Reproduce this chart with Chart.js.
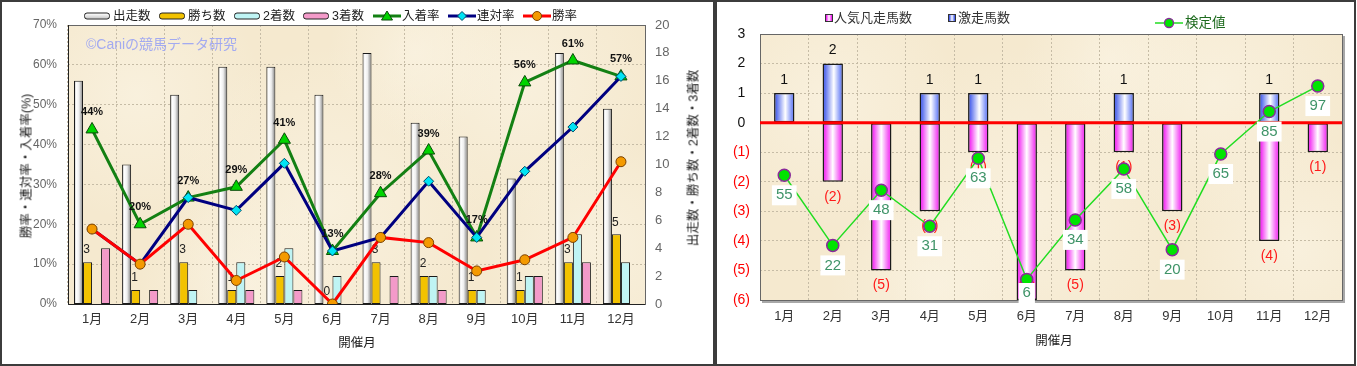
<!DOCTYPE html>
<html>
<head>
<meta charset="utf-8">
<script src="https://cdn.jsdelivr.net/npm/chart.js@4/dist/chart.umd.min.js"></script>
<style>
html,body{margin:0;padding:0;background:#fff;}
body{width:1357px;height:366px;position:relative;overflow:hidden;font-family:"Liberation Sans","Noto Sans CJK JP",sans-serif;}
.panel{position:absolute;top:0;height:366px;}
.panel canvas{position:absolute;left:0;top:0;}
.frame{position:absolute;left:0;top:0;right:0;bottom:0;border:2px solid #3c3c3c;box-sizing:border-box;pointer-events:none;}
.lg{position:absolute;font-size:12.5px;color:#222;white-space:nowrap;line-height:14px;transform:translateY(-50%);}
.ico{position:absolute;transform:translateY(-50%);box-sizing:border-box;}
.bar-ico{width:26px;height:7px;border:1px solid #222;border-radius:3px;}
.ttl{position:absolute;font-size:12.5px;color:#222;white-space:nowrap;transform:translate(-50%,-50%);}
.rot{transform:translate(-50%,-50%) rotate(-90deg);}
</style>
</head>
<body>
<div class="panel" id="p1" style="left:0;width:715px;">
  <canvas id="c1" width="715" height="366"></canvas>
  <div id="lg1"></div>
  <div class="ttl" style="left:86px;top:43px;transform:translateY(-50%);color:#a3aaf0;font-size:14px;">©Caniの競馬データ研究</div>
  <div class="ttl rot" style="left:25px;top:166px;">勝率・連対率・入着率(%)</div>
  <div class="ttl rot" style="left:692px;top:158px;">出走数・勝ち数・2着数・3着数</div>
  <div class="ttl" style="left:357px;top:341px;">開催月</div>
  <div class="frame"></div>
</div>
<div class="panel" id="p2" style="left:715px;width:641px;">
  <canvas id="c2" width="641" height="366"></canvas>
  <div id="lg2"></div>
  <div class="ttl" style="left:339px;top:339px;">開催月</div>
  <div class="frame"></div>
</div>
<script>
// ---- data: left chart ----
const months = ['1月','2月','3月','4月','5月','6月','7月','8月','9月','10月','11月','12月'];
const starts  = [16, 10, 15, 17, 17, 15, 18, 13, 12,  9, 18, 14];   // 出走数
const wins    = [ 3,  1,  3,  1,  2,  0,  3,  2,  1,  1,  3,  5];   // 勝ち数
const seconds = [ 0,  0,  1,  3,  4,  2,  0,  2,  1,  2,  5,  3];   // 2着数
const thirds  = [ 4,  1,  0,  1,  1,  0,  2,  1,  0,  2,  3,  0];   // 3着数
const placeRate    = [43.8, 20.0, 26.7, 29.4, 41.2, 13.3, 27.8, 38.5, 16.7, 55.6, 61.1, 57.1]; // 入着率
const quinellaRate = [18.8, 10.0, 26.7, 23.5, 35.3, 13.3, 16.7, 30.8, 16.7, 33.3, 44.4, 57.1]; // 連対率
const winRate      = [18.8, 10.0, 20.0,  5.9, 11.8,  0.0, 16.7, 15.4,  8.3, 11.1, 16.7, 35.7]; // 勝率
const rateTicks  = [0, 10, 20, 30, 40, 50, 60, 70];
const countTicks = [0, 2, 4, 6, 8, 10, 12, 14, 16, 18, 20];

// ---- data: right chart ----
const hitCounts  = [1, 2, 0, 1, 1, 0, 0, 1, 0, 0, 1, 0];          // 激走馬数
const flopCounts = [0, -2, -5, -3, -1, -6, -5, -1, -3, 0, -4, -1]; // 人気凡走馬数
const testValues = [55, 22, 48, 31, 63, 6, 34, 58, 20, 65, 85, 97]; // 検定値
const diffTicks  = [3, 2, 1, 0, -1, -2, -3, -4, -5, -6];

Chart.defaults.font.family = '"Liberation Sans","Noto Sans CJK JP",sans-serif';
Chart.defaults.animation = false;

const GRID = '#c6bca6';

function paper(ctx, a) {
  ctx.save();
  ctx.fillStyle = '#f5e9cf';
  ctx.fillRect(a.left, a.top, a.width, a.height);
  const spots = [[0.12,0.25,0.22],[0.45,0.65,0.28],[0.78,0.2,0.24],[0.3,0.95,0.18],[0.92,0.8,0.2],[0.6,0.1,0.15]];
  for (const [fx, fy, fr] of spots) {
    const x = a.left + fx * a.width, y = a.top + fy * a.height, r = fr * a.width;
    const g = ctx.createRadialGradient(x, y, 0, x, y, r);
    g.addColorStop(0, 'rgba(251,245,230,0.6)');
    g.addColorStop(1, 'rgba(251,245,230,0)');
    ctx.fillStyle = g;
    ctx.fillRect(a.left, a.top, a.width, a.height);
  }
  ctx.restore();
}

const gradPlugin = {
  id: 'grad',
  beforeDatasetsDraw(chart) {
    const ctx = chart.ctx;
    chart.data.datasets.forEach((ds, i) => {
      if (!ds.grad) return;
      chart.getDatasetMeta(i).data.forEach(el => {
        const g = ctx.createLinearGradient(el.x - el.width / 2, 0, el.x + el.width / 2, 0);
        ds.grad.forEach(([p, c]) => g.addColorStop(p, c));
        el.options = Object.assign({}, el.options, {backgroundColor: g});
      });
    });
  }
};

function text(ctx, s, x, y, font, color) {
  ctx.save();
  ctx.font = font;
  ctx.fillStyle = color;
  ctx.textAlign = 'center';
  ctx.textBaseline = 'middle';
  ctx.fillText(s, x, y);
  ctx.restore();
}

// ---------------- left chart ----------------
const chart1Plugin = {
  id: 'c1deco',
  beforeDraw(chart) { paper(chart.ctx, chart.chartArea); },
  beforeDatasetsDraw(chart) {
    const ctx = chart.ctx, a = chart.chartArea;
    ctx.save();
    ctx.strokeStyle = '#666';
    ctx.lineWidth = 1;
    ctx.strokeRect(a.left + 0.5, a.top + 0.5, a.width, a.height);
    ctx.strokeStyle = '#222';
    ctx.beginPath();
    ctx.moveTo(a.left + 0.5, a.top);
    ctx.lineTo(a.left + 0.5, a.bottom + 0.5);
    ctx.lineTo(a.right, a.bottom + 0.5);
    ctx.stroke();
    ctx.restore();
  },
  beforeDatasetDraw(chart, args) {
    if (args.index !== 4) return;
    chart.getDatasetMeta(1).data.forEach((el, i) => {
      text(chart.ctx, String(wins[i]), el.x - 1, el.y - 12, '12px "Liberation Sans"', '#222');
    });
  },
  afterDatasetsDraw(chart) {
    chart.getDatasetMeta(4).data.forEach((el, i) => {
      text(chart.ctx, Math.round(placeRate[i]) + '%', el.x, el.y - 17, 'bold 11px "Liberation Sans"', '#111');
    });
  }
};

const barDs = (label, data, color, grad) => ({
  type: 'bar', label, data, yAxisID: 'y1', order: 3,
  backgroundColor: () => color, grad,
  borderColor: '#1a1a1a', borderWidth: 1, borderSkipped: false,
  categoryPercentage: 0.75, barPercentage: 1
});

new Chart(document.getElementById('c1'), {
  type: 'bar',
  data: {
    labels: months,
    datasets: [
      barDs('出走数', starts, '#e8e8e8', [[0,'#b4b4b4'],[0.25,'#ffffff'],[0.55,'#eeeeee'],[1,'#7c7c7c']]),
      barDs('勝ち数', wins, '#f2c200', null),
      barDs('2着数', seconds, '#bff4f4', null),
      barDs('3着数', thirds, '#f39ac9', null),
      {type: 'line', label: '入着率', data: placeRate, yAxisID: 'y', order: 2,
       borderColor: '#138013', borderWidth: 3, tension: 0,
       pointStyle: 'triangle', pointRadius: 7, pointBackgroundColor: '#00d400', pointBorderColor: '#0a4a0a', pointBorderWidth: 1},
      {type: 'line', label: '連対率', data: quinellaRate, yAxisID: 'y', order: 1,
       borderColor: '#000080', borderWidth: 3, tension: 0,
       pointStyle: 'rectRot', pointRadius: 5, pointBackgroundColor: '#00e4f4', pointBorderColor: '#004a66', pointBorderWidth: 1},
      {type: 'line', label: '勝率', data: winRate, yAxisID: 'y', order: 0,
       borderColor: '#ff0000', borderWidth: 3, tension: 0,
       pointStyle: 'circle', pointRadius: 5, pointBackgroundColor: '#f49a00', pointBorderColor: '#7a4000', pointBorderWidth: 1}
    ]
  },
  options: {
    responsive: false,
    devicePixelRatio: 1,
    layout: {padding: {top: 25, left: 0, right: 0, bottom: 0}},
    plugins: {legend: {display: false}, tooltip: {enabled: false}},
    scales: {
      x: {
        grid: {color: GRID, offset: true, drawTicks: false},
        border: {display: false, dash: [2, 2]},
        ticks: {color: '#333', font: {size: 13}, padding: 8},
        afterFit: s => { s.height = 62; }
      },
      y: {
        position: 'left', min: rateTicks[0], max: rateTicks[rateTicks.length - 1],
        afterBuildTicks: s => { s.ticks = rateTicks.map(v => ({value: v})); },
        ticks: {callback: v => v + '%', color: '#666', font: {size: 12}, padding: 11},
        grid: {color: GRID, drawTicks: false},
        border: {display: false, dash: [2, 2]},
        afterFit: s => { s.width = 68; }
      },
      y1: {
        position: 'right', min: countTicks[0], max: countTicks[countTicks.length - 1],
        afterBuildTicks: s => { s.ticks = countTicks.map(v => ({value: v})); },
        ticks: {color: '#666', font: {size: 13}, padding: 10},
        grid: {display: false, drawTicks: false},
        border: {display: false},
        afterFit: s => { s.width = 70; }
      }
    }
  },
  plugins: [chart1Plugin, gradPlugin]
});

// ---------------- right chart ----------------
const chart2Plugin = {
  id: 'c2deco',
  beforeDraw(chart) { paper(chart.ctx, chart.chartArea); },
  beforeDatasetsDraw(chart) {
    const ctx = chart.ctx, a = chart.chartArea;
    ctx.save();
    ctx.fillStyle = '#a8a8a8';
    ctx.fillRect(a.right, a.top + 2, 3, a.height + 1);
    ctx.fillRect(a.left + 2, a.bottom, a.width + 1, 3);
    ctx.strokeStyle = '#666';
    ctx.lineWidth = 1;
    ctx.strokeRect(a.left + 0.5, a.top + 0.5, a.width, a.height);
    ctx.restore();
  },
  beforeDatasetDraw(chart, args) {
    if (args.index !== 0) return;
    const ctx = chart.ctx, a = chart.chartArea, y0 = chart.scales.y.getPixelForValue(0);
    ctx.save();
    ctx.strokeStyle = '#ff0000';
    ctx.lineWidth = 3;
    ctx.beginPath();
    ctx.moveTo(a.left, y0);
    ctx.lineTo(a.right, y0);
    ctx.stroke();
    ctx.restore();
    chart.getDatasetMeta(2).data.forEach((el, i) => {
      if (hitCounts[i] > 0) text(ctx, String(hitCounts[i]), el.x, el.y - 13, '14px "Liberation Sans"', '#111');
    });
    chart.getDatasetMeta(1).data.forEach((el, i) => {
      if (flopCounts[i] < 0) {
        const y = Math.min(el.y + 15, a.bottom - 14);
        text(ctx, '(' + (-flopCounts[i]) + ')', el.x, y, '14px "Liberation Sans"', '#ff1a1a');
      }
    });
  },
  afterDatasetsDraw(chart) {
    const ctx = chart.ctx, a = chart.chartArea;
    chart.getDatasetMeta(0).data.forEach((el, i) => {
      const s = String(testValues[i]);
      const y = Math.min(el.y + 20, a.bottom - 7);
      ctx.save();
      ctx.font = '15px "Liberation Sans"';
      const w = ctx.measureText(s).width + 8;
      ctx.fillStyle = '#ffffff';
      ctx.fillRect(el.x - w / 2, y - 10, w, 20);
      ctx.restore();
      text(ctx, s, el.x, y, '15px "Liberation Sans"', '#3f9468');
    });
  }
};

new Chart(document.getElementById('c2'), {
  type: 'bar',
  data: {
    labels: months,
    datasets: [
      {type: 'line', label: '検定値', data: testValues, yAxisID: 'y2', order: 0,
       borderColor: '#22dd22', borderWidth: 1.5, tension: 0,
       pointStyle: 'circle', pointRadius: 6, pointBackgroundColor: '#00e400', pointBorderColor: '#8a2a9a', pointBorderWidth: 1.5},
      {type: 'bar', label: '人気凡走馬数', data: flopCounts, yAxisID: 'y', order: 1,
       backgroundColor: () => '#ff80ff', grad: [[0,'#f000f0'],[0.5,'#ffffff'],[1,'#f010f0']],
       borderColor: '#1a1a1a', borderWidth: 1.5, borderSkipped: false,
       categoryPercentage: 1, barPercentage: 0.42},
      {type: 'bar', label: '激走馬数', data: hitCounts, yAxisID: 'y', order: 1,
       backgroundColor: () => '#8090ff', grad: [[0,'#2a46e8'],[0.55,'#ffffff'],[1,'#4a66f4']],
       borderColor: '#1a1a1a', borderWidth: 1.5, borderSkipped: false,
       categoryPercentage: 1, barPercentage: 0.42}
    ]
  },
  options: {
    responsive: false,
    devicePixelRatio: 1,
    layout: {padding: {top: 34, left: 0, right: 14, bottom: 0}},
    plugins: {legend: {display: false}, tooltip: {enabled: false}},
    scales: {
      x: {
        stacked: true,
        grid: {color: GRID, offset: true, drawTicks: false},
        border: {display: false, dash: [2, 2]},
        ticks: {color: '#333', font: {size: 13}, padding: 9},
        afterFit: s => { s.height = 66; }
      },
      y: {
        stacked: true, min: -6, max: 3,
        afterBuildTicks: s => { s.ticks = diffTicks.slice().reverse().map(v => ({value: v})); },
        ticks: {
          callback: v => v < 0 ? '(' + (-v) + ')' : String(v),
          color: c => c.tick.value < 0 ? '#ff0000' : '#111',
          font: {size: 14}, padding: 10, crossAlign: 'center'
        },
        grid: {color: GRID, drawTicks: false},
        border: {display: false, dash: [2, 2]},
        afterFit: s => { s.width = 45; }
      },
      y2: {display: false, min: -3.7, max: 121.5}
    }
  },
  plugins: [chart2Plugin, gradPlugin]
});

// ---------------- legends ----------------
const lg1 = [
  {t: '出走数', x: 84, bar: 'linear-gradient(#ffffff,#c8c8c8)'},
  {t: '勝ち数', x: 159, bar: '#f2c200'},
  {t: '2着数', x: 234, bar: '#bff4f4'},
  {t: '3着数', x: 303, bar: '#f39ac9'},
  {t: '入着率', x: 373, svg: '<line x1="0" y1="6" x2="28" y2="6" stroke="#138013" stroke-width="3"/><polygon points="14,1 19.5,10 8.5,10" fill="#00d400" stroke="#0a4a0a"/>'},
  {t: '連対率', x: 448, svg: '<line x1="0" y1="6" x2="28" y2="6" stroke="#000080" stroke-width="3"/><polygon points="14,1.5 18.5,6 14,10.5 9.5,6" fill="#00e4f4" stroke="#004a66"/>'},
  {t: '勝率', x: 523, svg: '<line x1="0" y1="6" x2="28" y2="6" stroke="#ff0000" stroke-width="3"/><circle cx="14" cy="6" r="4.5" fill="#f49a00" stroke="#7a4000"/>'}
];
let h = '';
lg1.forEach(it => {
  if (it.bar) h += `<div class="ico bar-ico" style="left:${it.x}px;top:16px;background:${it.bar};"></div>`;
  else h += `<svg class="ico" style="left:${it.x}px;top:16px;" width="28" height="12">${it.svg}</svg>`;
  h += `<div class="lg" style="left:${it.x + 29}px;top:16px;">${it.t}</div>`;
});
document.getElementById('lg1').innerHTML = h;

document.getElementById('lg2').innerHTML =
  `<div class="ico" style="left:110px;top:18px;width:8px;height:8px;border:1.5px solid #333;background:linear-gradient(90deg,#f000f0,#fff,#f000f0);"></div>` +
  `<div class="lg" style="left:119px;top:18px;font-size:13px;color:#333;">人気凡走馬数</div>` +
  `<div class="ico" style="left:233px;top:18px;width:8px;height:8px;border:1.5px solid #333;background:linear-gradient(90deg,#2a46e8,#fff,#2a46e8);"></div>` +
  `<div class="lg" style="left:243px;top:18px;font-size:13px;color:#333;">激走馬数</div>` +
  `<svg class="ico" style="left:440px;top:23px;" width="28" height="12"><line x1="0" y1="6" x2="28" y2="6" stroke="#22dd22" stroke-width="1.5"/><circle cx="14" cy="6" r="4.5" fill="#00e400" stroke="#8a2a9a" stroke-width="1.3"/></svg>` +
  `<div class="lg" style="left:470px;top:23px;font-size:13.5px;color:#1e6b1e;">検定値</div>`;
</script>
</body>
</html>
